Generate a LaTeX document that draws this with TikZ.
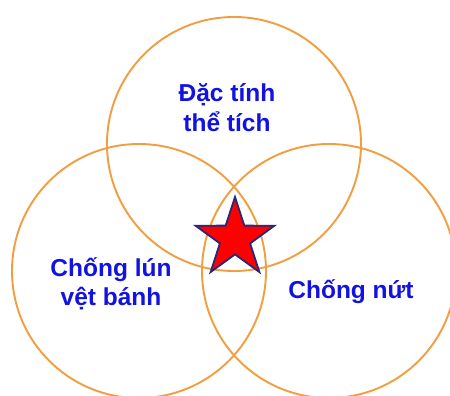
\documentclass[tikz,border=0pt]{standalone}
\usepackage{fontspec}
\setmainfont{Liberation Sans}
\definecolor{ringc}{RGB}{242,158,64}
\definecolor{txtc}{RGB}{18,18,225}
\definecolor{starline}{RGB}{40,40,120}
\tikzset{
  ring/.style={draw=ringc, line width=1.9pt},
  lbl/.style={text=txtc, font=\fontsize{24.5}{29}\selectfont\bfseries, align=center, inner sep=0pt, anchor=base},
}
\begin{document}
\begin{tikzpicture}[x=1pt,y=-1pt]
\useasboundingbox (0,0) rectangle (450,396);
\fill[white] (0,0) rectangle (450,396);
\clip (0,0) rectangle (450,396);
\draw[ring] (234,144) circle[radius=127];
\draw[ring] (139,271) circle[radius=127];
\draw[ring] (329,271) circle[radius=127];
\begin{scope}[shift={(235,238.5)}]
\draw[fill=red, draw=starline, line width=1.8pt, line join=miter]
  (-90:41.5) -- (-54:15.9) -- (-18:41.5) -- (18:15.9) -- (54:41.5) -- (90:15.9)
  -- (126:41.5) -- (162:15.9) -- (198:41.5) -- (234:15.9) -- cycle;
\end{scope}
\node[lbl] (top1) at (227,102) {Đặc tính};
\node[lbl] (top2) at (227,131) {thể tích};
\node[lbl] (left1) at (111,276) {Chống lún};
\node[lbl] (left2) at (111,305) {vệt bánh};
\node[lbl] (right1) at (351,298) {Chống nứt};
\end{tikzpicture}
\end{document}
